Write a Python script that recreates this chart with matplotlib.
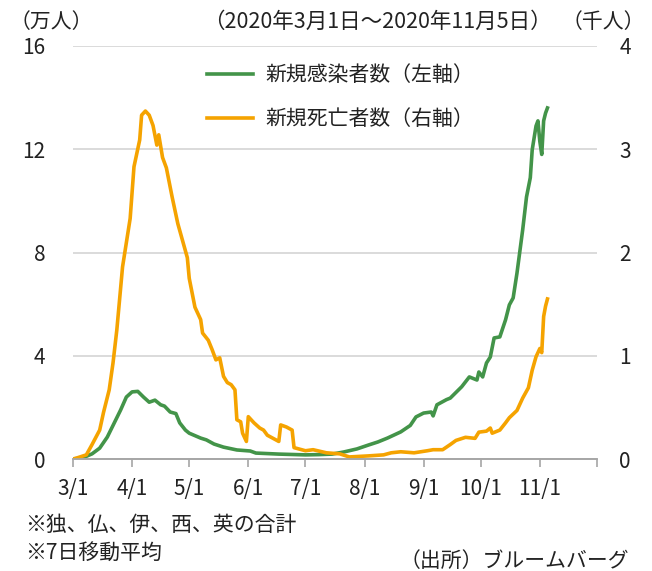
import matplotlib
matplotlib.use("Agg")
import matplotlib.pyplot as plt
import pandas as pd

plt.rcParams['font.family'] = ['Noto Sans CJK JP', 'DejaVu Sans']

# 新規感染者数 (7日移動平均, 万人)
case_dates = ["03-01", "03-06", "03-11", "03-15", "03-19", "03-22", "03-26", "03-29",
              "04-01", "04-04", "04-07", "04-10", "04-13", "04-16", "04-18", "04-21",
              "04-24", "04-26", "04-29", "05-01", "05-07", "05-10", "05-14", "05-19",
              "05-26", "06-02", "06-05", "06-17", "07-01", "07-08", "07-15", "07-21",
              "07-28", "08-03", "08-08", "08-13", "08-20", "08-25", "08-28", "09-01",
              "09-05", "09-06", "09-08", "09-13", "09-15", "09-21", "09-25", "09-29",
              "09-30", "10-02", "10-04", "10-06", "10-08", "10-11", "10-14", "10-16",
              "10-18", "10-20", "10-23", "10-25", "10-27", "10-28", "10-30", "10-31",
              "11-01", "11-02", "11-03", "11-04", "11-05"]
case_values = [0.0, 0.04, 0.2, 0.42, 0.85, 1.3, 1.9, 2.4,
               2.6, 2.62, 2.4, 2.2, 2.28, 2.1, 2.05, 1.82,
               1.76, 1.4, 1.12, 1.0, 0.81, 0.74, 0.58, 0.46,
               0.35, 0.31, 0.23, 0.19, 0.16, 0.17, 0.19, 0.27,
               0.39, 0.54, 0.66, 0.81, 1.05, 1.3, 1.63, 1.78,
               1.82, 1.67, 2.1, 2.3, 2.36, 2.8, 3.18, 3.06,
               3.37, 3.18, 3.72, 3.95, 4.69, 4.73, 5.39, 5.97,
               6.24, 7.2, 8.88, 10.15, 10.9, 11.98, 12.9, 13.1,
               12.3, 11.8, 13.1, 13.4, 13.6]

# 新規死亡者数 (7日移動平均, 千人)
death_dates = ["03-01", "03-03", "03-08", "03-11", "03-15", "03-17", "03-20", "03-22",
               "03-24", "03-27", "03-31", "04-02", "04-05", "04-06", "04-08", "04-10",
               "04-12", "04-14", "04-15", "04-17", "04-19", "04-22", "04-25", "04-30",
               "05-01", "05-04", "05-07", "05-08", "05-11", "05-13", "05-15", "05-17",
               "05-19", "05-21", "05-23", "05-25", "05-26", "05-28", "05-29", "05-31",
               "06-01", "06-04", "06-07", "06-09", "06-11", "06-14", "06-17", "06-18",
               "06-21", "06-24", "06-25", "07-01", "07-05", "07-12", "07-19", "07-24",
               "08-03", "08-11", "08-15", "08-20", "08-27", "09-03", "09-06", "09-11",
               "09-15", "09-18", "09-23", "09-28", "09-30", "10-04", "10-06", "10-07",
               "10-11", "10-14", "10-16", "10-20", "10-23", "10-26", "10-28", "10-30",
               "11-01", "11-02", "11-03", "11-04", "11-05"]
death_values = [0.0, 0.01, 0.04, 0.14, 0.28, 0.45, 0.67, 0.93,
                1.25, 1.86, 2.33, 2.83, 3.09, 3.33, 3.37, 3.33,
                3.23, 3.04, 3.14, 2.92, 2.82, 2.54, 2.28, 1.95,
                1.75, 1.47, 1.35, 1.22, 1.15, 1.06, 0.96, 0.98,
                0.8, 0.74, 0.72, 0.67, 0.38, 0.36, 0.25, 0.17,
                0.41, 0.35, 0.30, 0.28, 0.23, 0.20, 0.17, 0.33,
                0.31, 0.28, 0.11, 0.08, 0.09, 0.06, 0.05, 0.02,
                0.03, 0.04, 0.06, 0.07, 0.06, 0.08, 0.09, 0.09,
                0.14, 0.18, 0.21, 0.20, 0.26, 0.27, 0.30, 0.25,
                0.28, 0.35, 0.40, 0.47, 0.59, 0.69, 0.86, 0.99,
                1.07, 1.03, 1.38, 1.48, 1.55]

tick_dates = ["03-01", "04-01", "05-01", "06-01", "07-01", "08-01",
              "09-01", "10-01", "11-01", "12-01"]
tick_labels = ["3/1", "4/1", "5/1", "6/1", "7/1", "8/1", "9/1", "10/1", "11/1", ""]

left_ticks = [0, 4, 8, 12, 16]
right_ticks = [0, 1, 2, 3, 4]

to_dt = lambda ds: pd.to_datetime(["2020-" + d for d in ds])

green = "#439449"
orange = "#F5A300"
txt = "#222222"
fs = 15

fig = plt.figure(figsize=(6.52, 5.71), dpi=100)
ax = fig.add_axes([73/652, 1 - 459/571, 524/652, 413/571])
ax2 = ax.twinx()

l1, = ax.plot(to_dt(case_dates), case_values, color=green, lw=2.6, solid_joinstyle="round")
l2, = ax2.plot(to_dt(death_dates), death_values, color=orange, lw=2.6, solid_joinstyle="round")

ax.set_xlim(pd.Timestamp("2020-03-01"), pd.Timestamp("2020-12-01"))
ax.set_ylim(0, 16)
ax2.set_ylim(0, 4)
ax.set_yticks(left_ticks)
ax2.set_yticks(right_ticks)
ax.set_xticks(to_dt(tick_dates))
ax.set_xticklabels(tick_labels)

ax.grid(axis="y", color="#d4d4d4", lw=1.2)
ax.set_axisbelow(True)

for a in (ax, ax2):
    for s in ("top", "left", "right"):
        a.spines[s].set_visible(False)
    a.spines["bottom"].set_color("#a6a6a6")
    a.spines["bottom"].set_linewidth(1.2)

ax.tick_params(axis="x", direction="out", length=5.5, width=1.2, color="#a6a6a6",
               labelsize=fs, labelcolor=txt, pad=8)
ax.tick_params(axis="y", length=0, labelsize=fs, labelcolor=txt, pad=20)
ax2.tick_params(axis="y", length=0, labelsize=fs, labelcolor=txt, pad=16)

fig.text(10/652, 1 - 22/571, "（万人）", fontsize=fs, color=txt, ha="left", va="center")
fig.text(645/652, 1 - 22/571, "（千人）", fontsize=fs, color=txt, ha="right", va="center")
fig.text(377/652, 1 - 22/571, "（2020年3月1日～2020年11月5日）", fontsize=15.5,
         color=txt, ha="center", va="center")

fig.legend([l1, l2], ["新規感染者数（左軸）", "新規死亡者数（右軸）"],
           loc="upper left", bbox_to_anchor=(207/652, 1 - 64/571), frameon=False,
           fontsize=fs, handlelength=2.2, handletextpad=0.6, labelspacing=1.05,
           borderpad=0, borderaxespad=0, labelcolor=txt)

fig.text(25/652, 1 - 525/571, "※独、仏、伊、西、英の合計", fontsize=fs, color=txt,
         ha="left", va="center")
fig.text(25/652, 1 - 553/571, "※7日移動平均", fontsize=fs, color=txt,
         ha="left", va="center")
fig.text(629/652, 1 - 561/571, "（出所）ブルームバーグ", fontsize=fs, color=txt,
         ha="right", va="center")

fig.savefig("out.png", dpi=100)
